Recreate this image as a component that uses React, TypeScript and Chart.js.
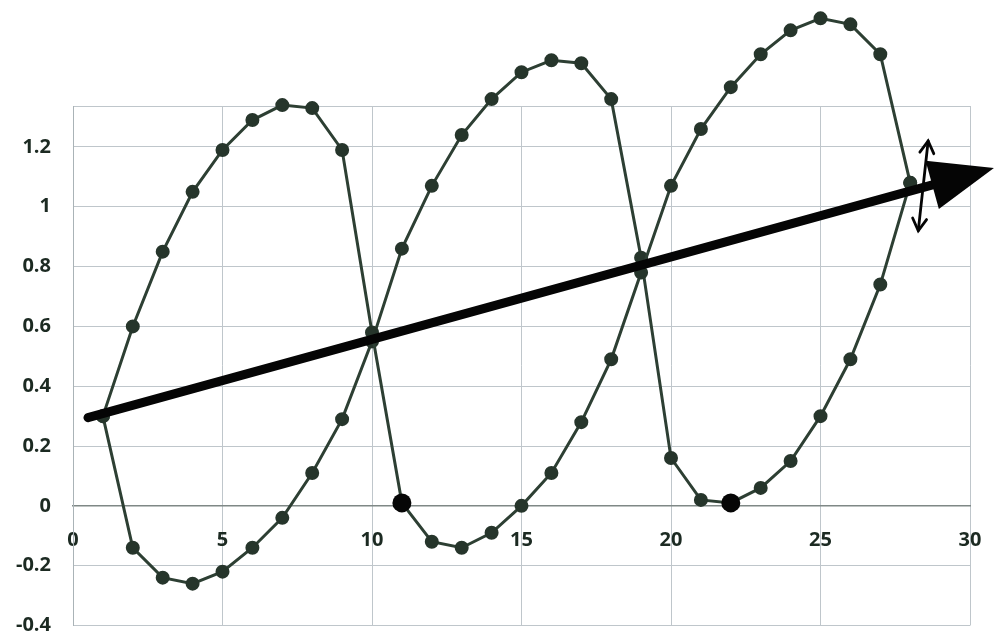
import React, { useEffect, useRef } from "react";
import { Chart, registerables } from "chart.js";

Chart.register(...registerables);

const xValues = [1, 2, 3, 4, 5, 6, 7, 8, 9, 10, 11, 12, 13, 14, 15, 16, 17, 18, 19, 20, 21, 22, 23, 24, 25, 26, 27, 28];
const seriesA = [0.3, 0.6, 0.85, 1.05, 1.19, 1.29, 1.34, 1.33, 1.19, 0.58, 0.01, -0.12, -0.14, -0.09, 0.0, 0.11, 0.28, 0.49, 0.78, 1.07, 1.26, 1.4, 1.51, 1.59, 1.63, 1.61, 1.51, 1.08];
const seriesB = [0.3, -0.14, -0.24, -0.26, -0.22, -0.14, -0.04, 0.11, 0.29, 0.55, 0.86, 1.07, 1.24, 1.36, 1.45, 1.49, 1.48, 1.36, 0.83, 0.16, 0.02, 0.01, 0.06, 0.15, 0.3, 0.49, 0.74, 1.08];
const markX = [11, 22];
const markY = [0.01, 0.01];
const arrowStart = [0.5, 0.295];
const arrowTip = [30.8, 1.13];
const smallArrowTop = [28.6, 1.22];
const smallArrowBottom = [28.27, 0.92];
const xTicks = [0, 5, 10, 15, 20, 25, 30];
const yMin = -0.4;
const yMax = 1.337;

const zeroPad = (scale: any) => {
  scale.paddingTop = 0;
  scale.paddingBottom = 0;
  scale.paddingLeft = 0;
  scale.paddingRight = 0;
};

const areaPlugin = {
  id: "openArea",
  beforeDatasetsDraw(chart: any) {
    chart.$savedArea = chart.chartArea;
    chart.chartArea = { ...chart.chartArea, top: 0, right: chart.width, left: 0, bottom: chart.height };
  },
  afterDatasetsDraw(chart: any) {
    if (chart.$savedArea) chart.chartArea = chart.$savedArea;
  },
};

const arrowPlugin = {
  id: "arrows",
  afterDatasetsDraw(chart: any) {
    const { ctx, scales } = chart;
    const xs = scales.x;
    const ys = scales.y;
    const px = (v: number[]) => [xs.getPixelForValue(v[0]), ys.getPixelForValue(v[1])];
    const [sx, sy] = px(arrowStart);
    const [tx, ty] = px(arrowTip);
    const dx = tx - sx;
    const dy = ty - sy;
    const len = Math.hypot(dx, dy);
    const ux = dx / len;
    const uy = dy / len;
    const headLen = 64;
    const headHalf = 25;
    const bx = tx - ux * headLen;
    const by = ty - uy * headLen;
    ctx.save();
    ctx.strokeStyle = "#050505";
    ctx.fillStyle = "#050505";
    ctx.lineCap = "round";
    ctx.lineWidth = 9;
    ctx.beginPath();
    ctx.moveTo(sx, sy);
    ctx.lineTo(bx + ux * 5, by + uy * 5);
    ctx.stroke();
    ctx.beginPath();
    ctx.moveTo(tx, ty);
    ctx.lineTo(bx - uy * headHalf, by + ux * headHalf);
    ctx.lineTo(bx + uy * headHalf, by - ux * headHalf);
    ctx.closePath();
    ctx.fill();

    const [ax, ay] = px(smallArrowTop);
    const [cx, cy] = px(smallArrowBottom);
    ctx.lineWidth = 2.8;
    ctx.beginPath();
    ctx.moveTo(ax, ay);
    ctx.lineTo(cx, cy);
    ctx.stroke();
    const sdx = ax - cx;
    const sdy = ay - cy;
    const sl = Math.hypot(sdx, sdy);
    const vx = sdx / sl;
    const vy = sdy / sl;
    const hl = 12;
    const hw = 7;
    const chevron = (x0: number, y0: number, dirx: number, diry: number) => {
      const bx2 = x0 - dirx * hl;
      const by2 = y0 - diry * hl;
      ctx.beginPath();
      ctx.moveTo(bx2 - diry * hw, by2 + dirx * hw);
      ctx.lineTo(x0, y0);
      ctx.lineTo(bx2 + diry * hw, by2 - dirx * hw);
      ctx.stroke();
    };
    chevron(ax, ay, vx, vy);
    chevron(cx, cy, -vx, -vy);
    ctx.restore();
  },
};

export default function App() {
  const ref = useRef<HTMLCanvasElement | null>(null);
  useEffect(() => {
    if (!ref.current) return;
    const lineColor = "#2d3f33";
    const pointColor = "#26352b";
    const tickFont = { family: "'Open Sans', 'DejaVu Sans', sans-serif", size: 20, weight: "bold" as const };
    const chart = new Chart(ref.current, {
      type: "scatter",
      data: {
        datasets: [
          {
            data: xValues.map((x, i) => ({ x, y: seriesA[i] })),
            showLine: true,
            borderColor: lineColor,
            borderWidth: 3,
            pointRadius: 5.5,
            pointBackgroundColor: pointColor,
            pointBorderColor: pointColor,
            clip: false,
            order: 1,
          } as any,
          {
            data: xValues.map((x, i) => ({ x, y: seriesB[i] })),
            showLine: true,
            borderColor: lineColor,
            borderWidth: 3,
            pointRadius: 5.5,
            pointBackgroundColor: pointColor,
            pointBorderColor: pointColor,
            clip: false,
            order: 2,
          } as any,
          {
            data: markX.map((x, i) => ({ x, y: markY[i] })),
            showLine: false,
            pointRadius: 9.5,
            pointBorderWidth: 0,
            pointBackgroundColor: "#060606",
            pointBorderColor: "#060606",
            clip: false,
            order: 0,
          } as any,
        ],
      },
      options: {
        responsive: false,
        animation: false,
        devicePixelRatio: 1,
        layout: { padding: { left: 0, right: 24, top: 106, bottom: 9 } },
        plugins: { legend: { display: false }, tooltip: { enabled: false } },
        scales: {
          x: {
            type: "linear",
            min: 0,
            max: 30,
            position: { y: 0 } as any,
            afterBuildTicks: (scale: any) => {
              scale.ticks = xTicks.map((v) => ({ value: v }));
            },
            afterFit: (scale: any) => {
              scale.height = 0;
              zeroPad(scale);
            },
            grid: { color: "#bfc6cb", lineWidth: 1, drawTicks: false },
            border: { color: "#7f8886", width: 1.4 },
            ticks: {
              padding: 22,
              color: "#1c2a22",
              font: tickFont,
              maxRotation: 0,
            },
          },
          y: {
            type: "linear",
            min: yMin,
            max: yMax,
            afterFit: (scale: any) => {
              scale.width = 73;
              zeroPad(scale);
            },
            grid: { color: "#bfc6cb", lineWidth: 1, drawTicks: false },
            border: { color: "#aab3b7", width: 1 },
            ticks: {
              stepSize: 0.2,
              padding: 22,
              color: "#1c2a22",
              font: tickFont,
              callback: (v: any) => {
                const n = Number(v);
                const r = Math.round(n * 5) / 5;
                if (Math.abs(n - r) > 1e-6) return "";
                return String(parseFloat(r.toFixed(1)));
              },
            },
          },
        },
      },
      plugins: [areaPlugin, arrowPlugin],
    });
    return () => chart.destroy();
  }, []);
  return (
    <div style={{ position: "fixed", left: 0, top: 0, width: 994, height: 635, overflow: "hidden", background: "#fff" }}>
      <canvas ref={ref} width={994} height={635} style={{ display: "block", width: 994, height: 635 }} />
    </div>
  );
}
